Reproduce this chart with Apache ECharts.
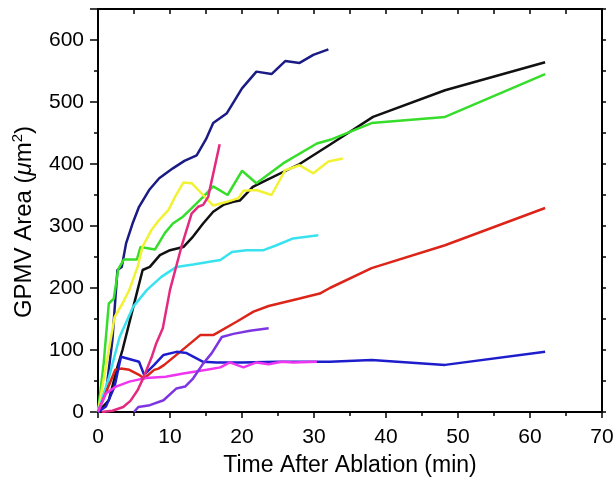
<!DOCTYPE html>
<html>
<head>
<meta charset="utf-8">
<script src="https://cdn.jsdelivr.net/npm/echarts@6/dist/echarts.min.js"></script>
<style>
html,body{margin:0;padding:0;background:#fff;}
#chart{width:616px;height:478px;}
</style>
</head>
<body>
<div id="chart"></div>
<script>
// ---- Data (time in min, GPMV area in µm²) ----
const navy    = [[0,0],[1.2,40],[2,116],[2.5,197],[2.7,229],[3.3,234],[3.9,272],[4.8,304],[5.7,331],[7.1,358],[8.5,377],[10.4,393],[12,405],[13.7,414],[15,440],[16,466],[17.9,482],[20,522],[22,549],[24.1,545],[26,566],[28,563],[29.9,576],[32,585]];
const black   = [[0,0],[1.5,19],[2.7,73],[3.4,100],[5.5,197],[6.2,229],[7.2,234],[8.6,253],[10,261],[11.85,266],[13.2,283],[14.6,304],[16,323],[17.4,334],[18.8,339],[19.7,341],[21.5,363],[23.4,374],[28,400],[32.2,431],[35,452],[38.2,476],[48.2,519],[62.1,564]];
const green   = [[0,0],[0.8,80],[1.5,175],[2.2,183],[2.8,230],[3.6,246],[5.4,246],[5.9,266],[7.9,262],[9.3,289],[10.4,304],[11.8,315],[13.2,331],[14.6,347],[16,364],[18,350],[20,389],[22,369],[25.7,401],[30.4,433],[32.5,440],[38,466],[48.2,476],[62.1,545]];
const yellow  = [[0,0],[2.3,153],[3.4,175],[4.35,197],[5.5,234],[6.2,267],[7.4,293],[8.3,307],[9.8,326],[10.7,347],[11.85,370],[13,369],[14.6,350],[16,333],[17.9,339],[19.5,345],[20.2,357],[22,358],[24.1,350],[26,390],[28,398],[29.9,385],[32,404],[34,409]];
const cyan    = [[0,0],[1.5,55],[3,121],[4.9,170],[6.8,197],[8.8,218],[10.9,234],[13.2,238],[15.3,242],[17,245],[18.6,258],[20.6,261],[23,261],[24.8,269],[27.1,280],[30.6,285]];
const red     = [[0,0],[2.4,68],[3.2,70],[4.35,68],[5.7,60],[6.4,54],[7.8,68],[8.4,70],[9.2,76],[11.4,97],[14.2,124],[16,124],[19.3,146],[21.6,162],[23.7,171],[28,183],[30.8,191],[32.2,200],[38,232],[48.2,269],[62.1,329]];
const blue    = [[0,0],[1.1,9],[2.3,41],[3,79],[3.2,89],[5.7,81],[6.4,60],[7.8,76],[9.1,92],[10.9,97],[12.3,95],[14.6,81],[16.5,80],[18.3,80],[20,80],[25,81],[32.2,81],[38,84],[48.2,76],[62.1,97]];
const magenta = [[0,0],[1.1,30],[2.5,41],[4.35,49],[6.7,55],[9.4,57],[11.85,62],[15.1,68],[17,72],[18.3,80],[20.2,72],[22,80],[23.7,77],[25.5,81],[27.1,80],[30.4,81]];
const pink    = [[0.5,0],[2,2],[3.5,8],[4.5,18],[5.5,35],[6.3,55],[7.5,90],[8.1,111],[9,135],[10,197],[11.6,267],[13,320],[13.9,331],[14.6,334],[15.3,347],[16.9,432]];
const purple  = [[5,0],[5.6,8],[7.2,11],[9.1,19],[10.9,38],[12.1,41],[13.2,54],[14.6,78],[15.8,95],[17.2,121],[18.8,126],[21.1,131],[23.7,135]];

const xTicks = [0,10,20,30,40,50,60,70];
const yTicks = [0,100,200,300,400,500,600];

const seriesDefs = [
  ['navy', navy, '#1b1b85'],
  ['black', black, '#111111'],
  ['green', green, '#36dd2a'],
  ['yellow', yellow, '#f2f235'],
  ['cyan', cyan, '#38e2ef'],
  ['red', red, '#dc2419'],
  ['blue', blue, '#1d1dcc'],
  ['magenta', magenta, '#f035f0'],
  ['purple', purple, '#7d35e2'],
  ['pink', pink, '#e32a80']
];

const chart = echarts.init(document.getElementById('chart'), null, {renderer:'canvas'});
const FONT = 'Liberation Sans, Arial, sans-serif';
const mkLine = () => ({show:true, onZero:false, lineStyle:{color:'#000', width:2}});
const noLine = () => ({show:false, onZero:false});

const option = {
  backgroundColor:'#fff',
  animation:false,
  grid:{left:98, top:9, right:14, bottom:66, containLabel:false, outerBoundsMode:'none'},
  xAxis:[
    {type:'value', position:'bottom', min:0, max:70, interval:10,
     axisLine:mkLine(), axisTick:{show:true, length:6, inside:false, lineStyle:{color:'#000', width:1.5}},
     axisLabel:{color:'#000', fontSize:21, fontFamily:FONT, margin:15,
       formatter:v=> xTicks.includes(v) ? String(v) : ''},
     splitLine:{show:false},
     name:'Time After Ablation (min)', nameLocation:'middle', nameGap:42,
     nameTextStyle:{color:'#000', fontSize:23, fontFamily:FONT}},
    {type:'value', position:'bottom', min:0, max:70, interval:5,
     axisLine:noLine(), axisTick:{show:true, length:4, lineStyle:{color:'#000', width:1.5}},
     axisLabel:{show:false}, splitLine:{show:false}},
    {type:'value', position:'top', min:0, max:70, interval:5,
     axisLine:mkLine(), axisTick:{show:true, length:5, inside:true, lineStyle:{color:'#000', width:1.5}},
     axisLabel:{show:false}, splitLine:{show:false}}
  ],
  yAxis:[
    {type:'value', position:'left', min:0, max:650, interval:100,
     axisLine:mkLine(), axisTick:{show:true, length:8, lineStyle:{color:'#000', width:1.5}},
     axisLabel:{color:'#000', fontSize:21, fontFamily:FONT, margin:14,
       formatter:v=> yTicks.includes(v) ? String(v) : ''},
     splitLine:{show:false}},
    {type:'value', position:'left', min:0, max:650, interval:50,
     axisLine:noLine(), axisTick:{show:true, length:4, lineStyle:{color:'#000', width:1.5}},
     axisLabel:{show:false}, splitLine:{show:false}},
    {type:'value', position:'right', min:0, max:650, interval:50,
     axisLine:mkLine(), axisTick:{show:true, length:4, lineStyle:{color:'#000', width:1.5}},
     axisLabel:{show:false}, splitLine:{show:false}}
  ],
  graphic:[{
    type:'text', x:24, y:222, rotation:Math.PI/2,
    style:{
      text:'{a|GPMV Area (}{i|μ}{a|m}{s|2}{a|)}',
      x:0, y:0, align:'center', verticalAlign:'middle',
      rich:{
        a:{fontSize:24, fontFamily:FONT, fill:'#000', color:'#000'},
        i:{fontSize:24, fontFamily:FONT, fontStyle:'italic', fill:'#000', color:'#000'},
        s:{fontSize:15, fontFamily:FONT, fill:'#000', color:'#000', verticalAlign:'top', padding:[0,0,12,0]}
      }
    }
  }],
  series: seriesDefs.map(([name, data, color]) => ({
    name, type:'line', data, xAxisIndex:0, yAxisIndex:0,
    showSymbol:false, smooth:false, clip:true,
    lineStyle:{color, width:2.5}, itemStyle:{color}
  }))
};
chart.setOption(option);
</script>
</body>
</html>
